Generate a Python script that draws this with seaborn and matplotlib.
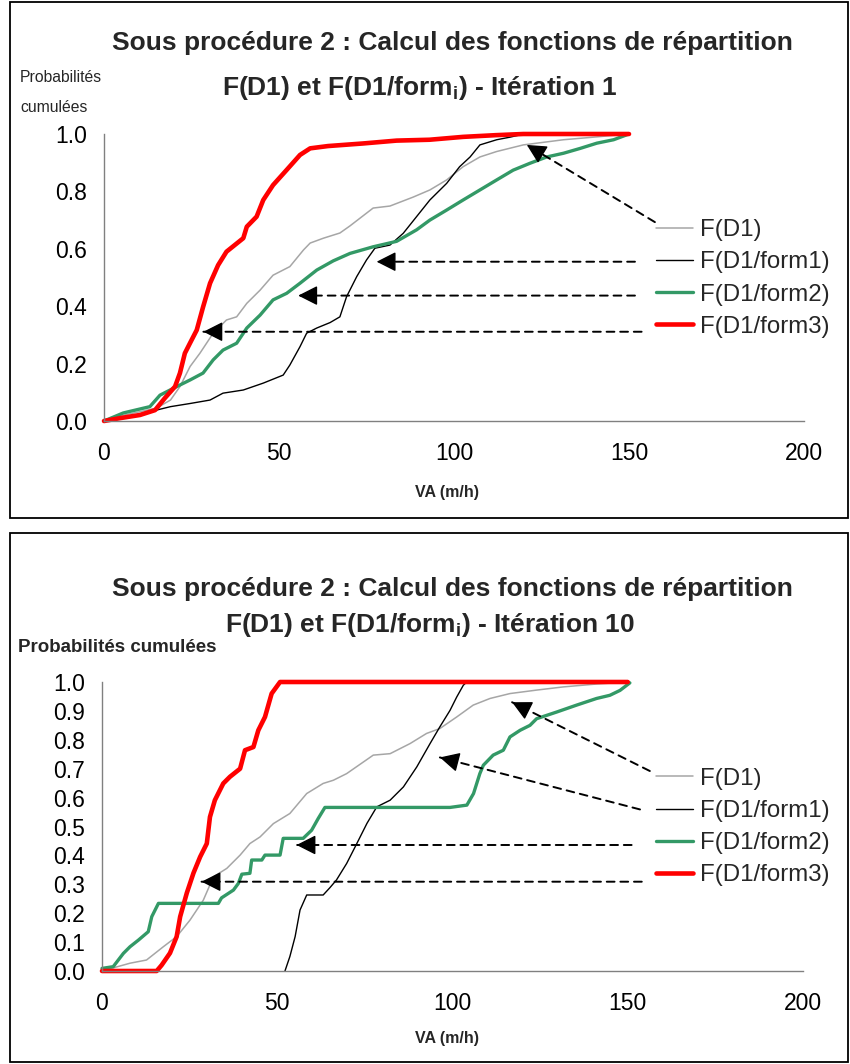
import numpy as np
import pandas as pd
import matplotlib
matplotlib.use("Agg")
import matplotlib.pyplot as plt
import seaborn as sns
from matplotlib.patches import Rectangle

# ---------------- data ----------------
series_labels = ["F(D1)", "F(D1/form1)", "F(D1/form2)", "F(D1/form3)"]
series_colors = ["#A6A6A6", "#000000", "#339966", "#FF0000"]
series_widths = [1.1, 1.0, 2.4, 3.3]

# Iteration 1
it1_d1_va = [0, 5.5, 15, 19, 21.7, 24.6, 27.4, 31.2, 35, 37.9, 40.8, 44.6, 48.3, 53.1, 57, 58.9, 62.7, 67.4, 70.3,
             76.9, 81.7, 88.3, 93.1, 97.9, 102.6, 107.4, 112.2, 119.8, 131.3, 140.8, 150]
it1_d1_p = [0, 0.02, 0.045, 0.073, 0.12, 0.19, 0.236, 0.306, 0.352, 0.363, 0.41, 0.456, 0.508, 0.538, 0.596, 0.62,
            0.637, 0.655, 0.68, 0.742, 0.749, 0.78, 0.805, 0.84, 0.886, 0.92, 0.939, 0.962, 0.98, 0.99, 1.0]

it1_f1_va = [0, 10, 15, 19, 24.6, 30.3, 34, 39.8, 45.5, 51.2, 53.1, 56, 57.9, 60.8, 64.6, 67.4, 69.3, 72.2, 75,
             77.4, 81.7, 85.5, 89.3, 93.1, 97.9, 101.6, 104.6, 107.4, 112.2, 116, 120, 150]
it1_f1_p = [0, 0.02, 0.038, 0.05, 0.061, 0.073, 0.097, 0.108, 0.132, 0.16, 0.195, 0.259, 0.306, 0.324, 0.343,
            0.363, 0.433, 0.503, 0.561, 0.602, 0.613, 0.654, 0.712, 0.77, 0.828, 0.886, 0.92, 0.962, 0.98, 0.989,
            1.0, 1.0]

it1_f2_va = [0, 5.5, 13.1, 16, 20.8, 24.6, 28.3, 31.2, 34, 37.9, 40.8, 44.6, 48.3, 52.2, 56, 60.8, 65.5, 70.3,
             76.9, 83.6, 89.3, 93.1, 97.9, 102.6, 107.4, 112.2, 116.9, 121.7, 126.5, 131.3, 136.1, 140.8, 145.6, 150]
it1_f2_p = [0, 0.028, 0.05, 0.09, 0.12, 0.143, 0.167, 0.213, 0.247, 0.271, 0.324, 0.369, 0.422, 0.445, 0.48,
            0.526, 0.558, 0.584, 0.607, 0.626, 0.666, 0.70, 0.735, 0.77, 0.805, 0.84, 0.874, 0.898, 0.92, 0.933,
            0.95, 0.968, 0.98, 1.0]

it1_f3_va = [0, 4.6, 10.3, 14.6, 17.4, 20.3, 21.7, 23.1, 24.6, 26.5, 28.3, 30.3, 32.6, 35, 39.8, 40.8, 43.6,
             45.5, 48.3, 52.2, 56, 58.9, 64, 74, 83.6, 93, 102.6, 112, 119.8, 150]
it1_f3_p = [0, 0.01, 0.021, 0.038, 0.08, 0.12, 0.167, 0.236, 0.272, 0.317, 0.397, 0.48, 0.543, 0.59, 0.637,
            0.677, 0.712, 0.77, 0.822, 0.875, 0.927, 0.95, 0.958, 0.967, 0.977, 0.98, 0.99, 0.996, 1.0, 1.0]

# Iteration 10
it10_d1_va = [0, 8, 12.7, 17.5, 21.3, 25.1, 28.9, 31.8, 35.6, 39.4, 42.2, 45.1, 48.9, 53.6, 58.4, 63.1, 66,
              69.8, 77.4, 82.2, 87.9, 92.6, 96.4, 101.2, 105.9, 110.7, 116.4, 124, 131.6, 141.1, 150]
it10_d1_p = [0, 0.027, 0.038, 0.084, 0.119, 0.176, 0.245, 0.326, 0.355, 0.401, 0.441, 0.464, 0.51, 0.545,
             0.614, 0.649, 0.66, 0.683, 0.747, 0.752, 0.787, 0.822, 0.839, 0.879, 0.92, 0.943, 0.96, 0.972,
             0.983, 0.993, 1.0]

it10_f1_va = [52.2, 53.6, 55.1, 56.5, 58.4, 63.1, 65, 66.9, 69.8, 72.7, 75.6, 78.4, 82.2, 86, 89.8, 93.6,
              96.4, 99.3, 101.2, 103.1, 104.1, 150]
it10_f1_p = [0, 0.05, 0.119, 0.211, 0.263, 0.263, 0.288, 0.315, 0.372, 0.441, 0.511, 0.568, 0.591, 0.637,
             0.706, 0.787, 0.845, 0.902, 0.948, 0.989, 1.0, 1.0]

it10_f2_va = [0, 3.2, 6.1, 8, 10.4, 13.2, 14.2, 16.1, 33.2, 34.1, 37.5, 38.9, 39.9, 42.2, 42.7, 45.6, 46.5,
              50.8, 51.7, 57.4, 59.8, 61.7, 63.6, 99.3, 104.1, 106, 107.8, 108.8, 111.6, 114.5, 116.4, 119.3,
              122.1, 124, 129.7, 135.4, 141.1, 144.9, 147.8, 150.6]
it10_f2_p = [0.009, 0.015, 0.061, 0.084, 0.107, 0.136, 0.188, 0.234, 0.234, 0.253, 0.28, 0.303, 0.335, 0.338,
             0.384, 0.384, 0.401, 0.401, 0.459, 0.459, 0.487, 0.528, 0.566, 0.566, 0.574, 0.614, 0.683, 0.712,
             0.747, 0.764, 0.81, 0.833, 0.85, 0.873, 0.896, 0.92, 0.943, 0.954, 0.971, 0.997]

it10_f3_va = [0, 15.6, 17, 19.4, 21.3, 22.3, 24.2, 26.1, 28, 29.9, 30.8, 32.2, 34.6, 36.5, 39.4, 40.8, 43.2,
              44.6, 46.5, 48.4, 50.8, 150]
it10_f3_p = [0, 0, 0.02, 0.062, 0.119, 0.188, 0.27, 0.339, 0.395, 0.441, 0.533, 0.591, 0.649, 0.672, 0.70,
             0.764, 0.775, 0.833, 0.879, 0.96, 1.0, 1.0]

# annotation arrows (start at legend, tip on curve)
it1_arrow_from = [(157.4, 0.693), (151.7, 0.555), (151.7, 0.437), (153.6, 0.311)]
it1_arrow_to = [(120.8, 0.962), (77.9, 0.555), (55.5, 0.437), (28.4, 0.311)]
it10_arrow_from = [(156.3, 0.692), (153.5, 0.559), (151.1, 0.436), (154.0, 0.309)]
it10_arrow_to = [(117.0, 0.930), (96.4, 0.739), (55.5, 0.436), (28.4, 0.309)]

x_ticks = [0, 50, 100, 150, 200]
it1_y_ticks = [0.0, 0.2, 0.4, 0.6, 0.8, 1.0]
it10_y_ticks = [round(0.1 * i, 1) for i in range(11)]

title_line1 = "Sous procédure 2 : Calcul des fonctions de répartition"
it1_title_line2 = r"F(D1) et F(D1/form$_{\mathregular{i}}$) - Itération 1"
it10_title_line2 = r"F(D1) et F(D1/form$_{\mathregular{i}}$) - Itération 10"
x_label = "VA (m/h)"

# ---------------- style ----------------
sns.set_theme(style="white")
plt.rcParams['font.family'] = ['Liberation Sans', 'DejaVu Sans']
plt.rcParams['mathtext.fontset'] = 'custom'
plt.rcParams['mathtext.rm'] = 'Liberation Sans'
plt.rcParams['mathtext.bf'] = 'Liberation Sans:bold'

W, H = 850, 1064
fig = plt.figure(figsize=(W / 100, H / 100), dpi=100)
fig.patch.set_facecolor("white")


def fx(px):
    return px / W


def fy(py):
    return 1 - py / H


def build_axes(rect, series, yticks, arrows_from, arrows_to, legend_center_py):
    ax = fig.add_axes(rect)
    for (va, p), lab, col, lw in zip(series, series_labels, series_colors, series_widths):
        df = pd.DataFrame({"VA": va, "P": p})
        sns.lineplot(data=df, x="VA", y="P", ax=ax, color=col, linewidth=lw, sort=False,
                     estimator=None, label=lab, clip_on=False)
    ax.set_xlim(0, 200)
    ax.set_ylim(0, 1.0)
    ax.set_xticks(x_ticks)
    ax.set_xticklabels([str(t) for t in x_ticks])
    ax.set_yticks(yticks)
    ax.set_yticklabels([f"{t:.1f}" for t in yticks])
    ax.set_facecolor("white")
    sns.despine(ax=ax)
    for s in ("left", "bottom"):
        ax.spines[s].set_color("#808080")
        ax.spines[s].set_linewidth(1.0)
    ax.tick_params(axis="both", direction="out", length=6, width=1.0, color="#808080",
                   labelsize=16.5, labelcolor="black")
    ax.tick_params(axis="y", pad=6)
    ax.tick_params(axis="x", pad=9)
    ax.set_ylabel("")
    ax.set_xlabel(x_label, fontsize=11.5, fontweight="bold", labelpad=10)

    for (x0, y0), (x1, y1) in zip(arrows_from, arrows_to):
        # dashed shaft
        ax.annotate("", xy=(x1, y1), xytext=(x0, y0), annotation_clip=False,
                    arrowprops=dict(arrowstyle="-", linestyle=(0, (4, 3)),
                                    color="black", lw=1.4, shrinkA=0, shrinkB=0))
        # solid filled head
        ax.annotate("", xy=(x1, y1), xytext=(x1 + (x0 - x1) * 0.04, y1 + (y0 - y1) * 0.04),
                    annotation_clip=False,
                    arrowprops=dict(arrowstyle="-|>,head_length=0.75,head_width=0.38",
                                    mutation_scale=16, color="black", lw=1.0, shrinkA=0, shrinkB=0))

    fs = 17.3
    ax.legend(loc="center left", bbox_to_anchor=(fx(656), fy(legend_center_py)),
              bbox_transform=fig.transFigure, frameon=False, fontsize=fs,
              handlelength=1.55, handletextpad=0.3, labelspacing=0.42, borderpad=0, borderaxespad=0)
    return ax


ax1 = build_axes([fx(104), fy(421), 700 / W, 287 / H],
                 [(it1_d1_va, it1_d1_p), (it1_f1_va, it1_f1_p), (it1_f2_va, it1_f2_p), (it1_f3_va, it1_f3_p)],
                 it1_y_ticks, it1_arrow_from, it1_arrow_to, 278.5)
ax1.xaxis.set_label_coords((447 - 104) / 700, (421 - 485) / 287)

ax2 = build_axes([fx(102), fy(971), 701 / W, 289 / H],
                 [(it10_d1_va, it10_d1_p), (it10_f1_va, it10_f1_p), (it10_f2_va, it10_f2_p), (it10_f3_va, it10_f3_p)],
                 it10_y_ticks, it10_arrow_from, it10_arrow_to, 827)
ax2.xaxis.set_label_coords((447 - 102) / 701, (971 - 1031) / 289)

# titles
fig.text(fx(452), fy(43), title_line1, ha="center", va="center", fontsize=19, fontweight="bold")
fig.text(fx(420), fy(88), it1_title_line2, ha="center", va="center", fontsize=19, fontweight="bold")
fig.text(fx(452), fy(589), title_line1, ha="center", va="center", fontsize=19, fontweight="bold")
fig.text(fx(430), fy(625), it10_title_line2, ha="center", va="center", fontsize=19, fontweight="bold")

# y-axis titles
fig.text(fx(20), fy(78), "Probabilités", ha="left", va="center", fontsize=11.3)
fig.text(fx(20), fy(107), "cumulées", ha="left", va="center", fontsize=11.3)
fig.text(fx(18), fy(648), "Probabilités cumulées", ha="left", va="center", fontsize=13.5, fontweight="bold")

# chart frames
fig.add_artist(Rectangle((fx(10), fy(518)), fx(838), 516 / H, transform=fig.transFigure,
                         fill=False, edgecolor="black", linewidth=1.3))
fig.add_artist(Rectangle((fx(10), fy(1062)), fx(838), 529 / H, transform=fig.transFigure,
                         fill=False, edgecolor="black", linewidth=1.3))

fig.savefig("out.png", dpi=100, facecolor="white")
